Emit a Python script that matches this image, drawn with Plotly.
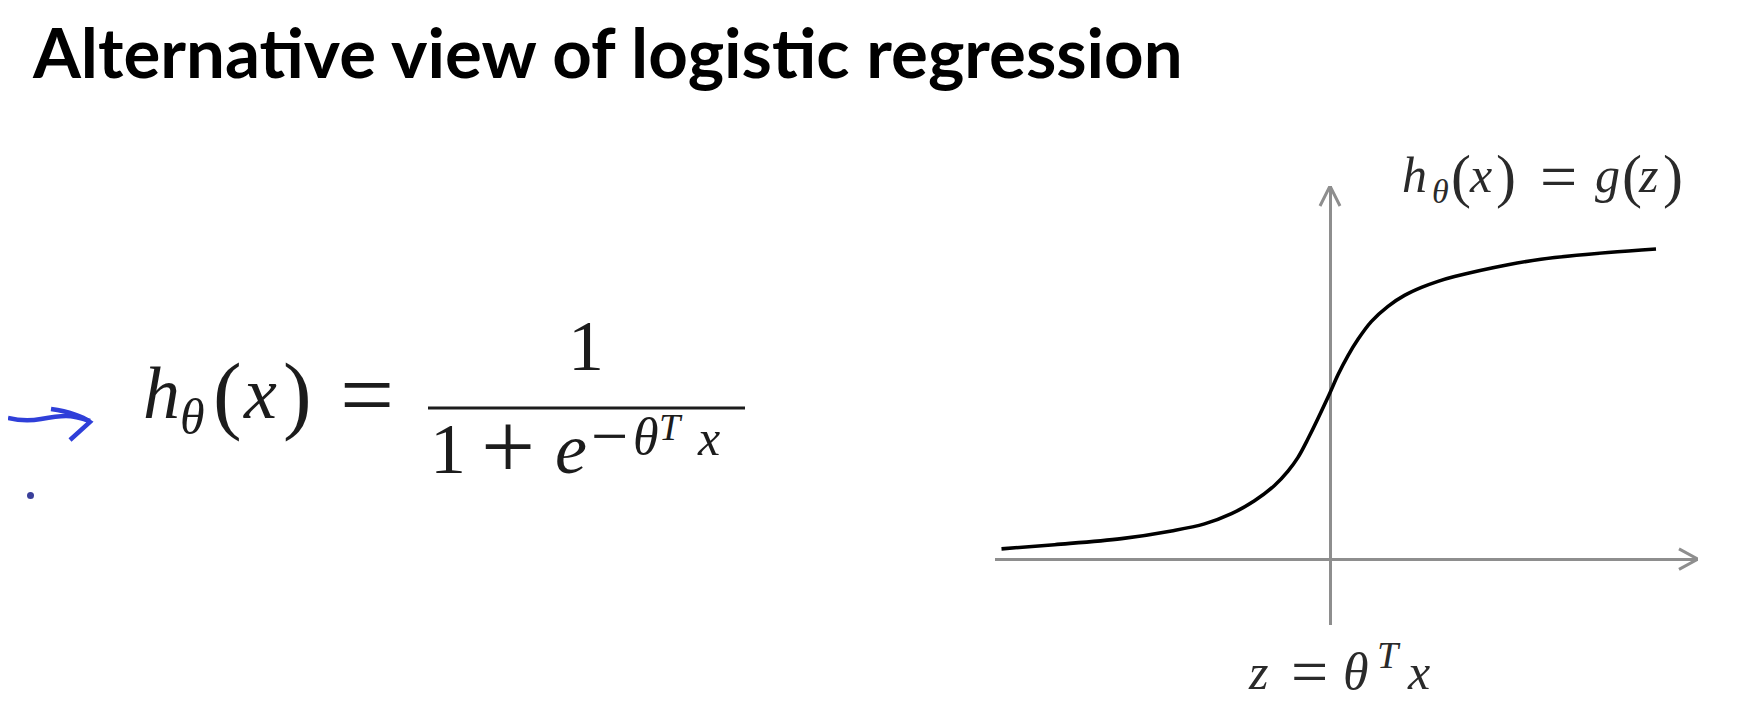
import plotly.graph_objects as go

W, H = 1748, 728

# Sigmoid curve (z = theta^T x, g = h_theta(x))
z_vals = [-6.57, -5.51, -4.17, -3.17, -2.51, -1.97, -1.51, -1.11, -0.84, -0.64, -0.44, -0.02,
          0.16, 0.36, 0.56, 0.83, 1.16, 1.49, 1.83, 2.16, 2.49, 3.56, 4.22, 5.56, 6.52]
g_vals = [0.032, 0.045, 0.064, 0.088, 0.11, 0.142, 0.182, 0.23, 0.275, 0.318, 0.376, 0.513,
          0.576, 0.636, 0.687, 0.743, 0.790, 0.824, 0.849, 0.868, 0.883, 0.92, 0.937, 0.958, 0.969]

# axis extents (the axes end where the arrows are)
z_range = [-6.7, 7.36]
g_range = [-0.206, 1.166]

title_text = 'Alternative view of logistic regression'

SERIF = 'Liberation Serif'
AXIS_GREY = '#8e8e8e'
INK = '#1c1c1c'
LABEL_INK = '#2a2a2a'
PEN_BLUE = '#2f3fd9'


def px(x):
    return x / W


def py(y):
    return 1 - y / H


def glyph(text, left, base, size, color=INK, anchor='left'):
    # place a serif text piece by its left edge and baseline (pixels)
    return dict(text=text, x=px(left - 5 if anchor == 'left' else left),
                y=py(base - 0.4 * size - 3), xref='paper', yref='paper',
                xanchor=anchor, yanchor='middle', showarrow=False,
                font=dict(family=SERIF, size=size, color=color))


fig = go.Figure()

fig.add_trace(go.Scatter(
    x=z_vals, y=g_vals, mode='lines', line=dict(color='black', width=3.6, shape='spline', smoothing=1.0),
    hoverinfo='skip', showlegend=False
))

# open arrow heads on the axes
zx, gy = z_range[1], g_range[1]
hx, hy = 0.38, 0.032   # x arrow: ~19px back, 10px spread
vx, vy = 0.2, 0.0625   # y arrow: 10px spread, 20px back
shapes = [
    dict(type='path', xref='x', yref='y', line=dict(color=AXIS_GREY, width=3),
         path=f'M {zx - hx},{hy} L {zx},0 L {zx - hx},{-hy}'),
    dict(type='path', xref='x', yref='y', line=dict(color=AXIS_GREY, width=3),
         path=f'M {-vx},{gy - vy} L 0,{gy} L {vx},{gy - vy}'),
    # fraction bar
    dict(type='line', xref='paper', yref='paper', x0=px(420), x1=px(737), y0=py(400), y1=py(400),
         line=dict(color=INK, width=3)),
    # blue hand-drawn arrow
    dict(type='path', xref='paper', yref='paper', line=dict(color=PEN_BLUE, width=4.5),
         path='M {},{} Q {},{} {},{} T {},{} T {},{}'.format(
             px(0), py(410), px(17), py(414), px(33), py(411), px(58), py(408), px(82), py(413))),
    dict(type='path', xref='paper', yref='paper', line=dict(color=PEN_BLUE, width=4.5),
         path='M {},{} Q {},{} {},{} L {},{}'.format(
             px(43), py(401), px(70), py(405), px(82), py(414), px(62), py(432))),
    dict(type='circle', xref='paper', yref='paper', fillcolor='#3a3f9a', line=dict(width=0),
         x0=px(19), x1=px(26), y0=py(484), y1=py(491)),
]

annotations = [
    dict(text='<b>' + title_text + '</b>', x=px(22), y=py(77 - 0.387 * 69 - 7), xref='paper', yref='paper',
         xanchor='left', yanchor='middle', showarrow=False,
         font=dict(family='Lato', size=69, color='black')),

    # main formula: h_theta(x) = 1 / (1 + e^{-theta^T x})
    glyph('<i>h</i>', 138, 418, 74),
    glyph('<i>θ</i>', 175, 432, 50),
    glyph('(', 208, 423, 86),
    glyph('<i>x</i>', 238, 418, 74),
    glyph(')', 278, 423, 86),
    glyph('=', 335, 404 + 0.25 * 96, 96),
    glyph('1', 578, 370, 72, anchor='center'),
    glyph('1', 425, 473, 72),
    glyph('+', 476, 455 + 0.25 * 96, 96),
    glyph('<i>e</i>', 550, 473, 72),
    glyph('−', 586, 440 + 0.25 * 66, 66),
    glyph('<i>θ</i>', 628, 452, 52),
    glyph('<i>T</i>', 654, 437, 38),
    glyph('<i>x</i>', 692, 453, 50),

    # label above the graph: h_theta(x) = g(z)
    glyph('<i>h</i>', 1397, 190, 50, color=LABEL_INK),
    glyph('<i>θ</i>', 1427, 200, 34, color=LABEL_INK),
    glyph('(', 1446, 195, 60, color=LABEL_INK),
    glyph('<i>x</i>', 1464, 190, 50, color=LABEL_INK),
    glyph(')', 1491, 195, 60, color=LABEL_INK),
    glyph('=', 1535, 181 + 0.25 * 66, 66, color=LABEL_INK),
    glyph('<i>g</i>', 1590, 190, 50, color=LABEL_INK),
    glyph('(', 1617, 195, 60, color=LABEL_INK),
    glyph('<i>z</i>', 1633, 190, 50, color=LABEL_INK),
    glyph(')', 1658, 195, 60, color=LABEL_INK),

    # label below the graph: z = theta^T x
    glyph('<i>z</i>', 1243, 687, 50, color=LABEL_INK),
    glyph('=', 1286, 676 + 0.25 * 66, 66, color=LABEL_INK),
    glyph('<i>θ</i>', 1338, 687, 52, color=LABEL_INK),
    glyph('<i>T</i>', 1372, 665, 38, color=LABEL_INK),
    glyph('<i>x</i>', 1402, 687, 50, color=LABEL_INK),
]

fig.update_layout(
    width=W, height=H,
    margin=dict(l=0, r=0, t=0, b=0),
    paper_bgcolor='white', plot_bgcolor='white',
    xaxis=dict(domain=[987 / W, 1690 / W], range=z_range, showgrid=False, showticklabels=False,
               zeroline=True, zerolinecolor=AXIS_GREY, zerolinewidth=3, showline=False, ticks=''),
    yaxis=dict(domain=[1 - 617 / H, 1 - 178 / H], range=g_range, showgrid=False, showticklabels=False,
               zeroline=True, zerolinecolor=AXIS_GREY, zerolinewidth=3, showline=False, ticks=''),
    shapes=shapes,
    annotations=annotations,
    showlegend=False,
)

fig.write_html('out.html')
